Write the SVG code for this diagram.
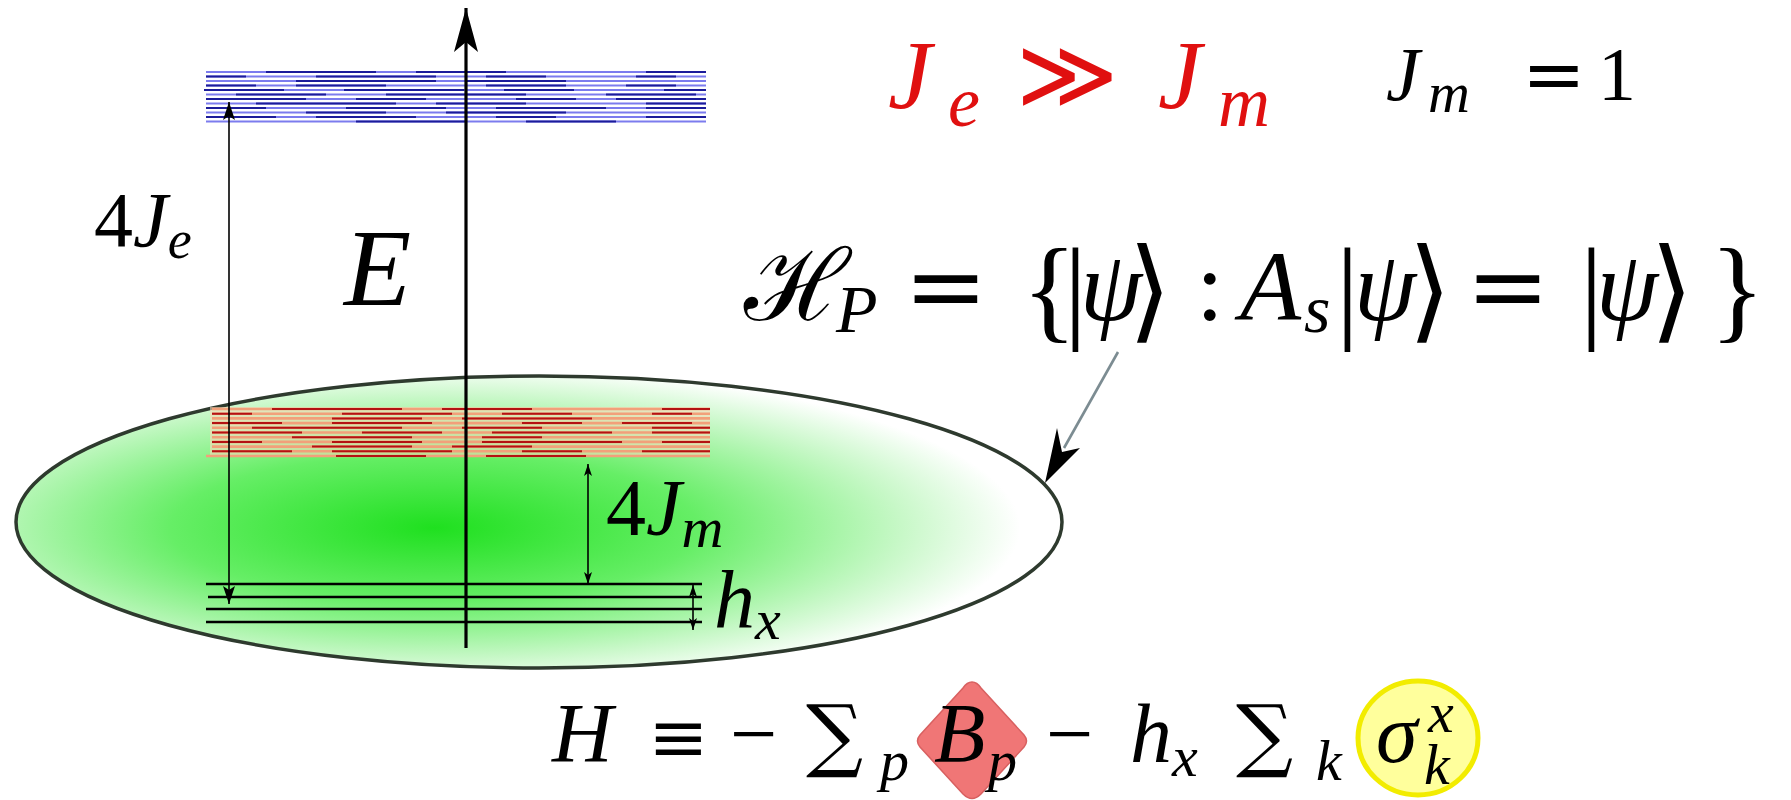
<svg xmlns="http://www.w3.org/2000/svg" width="1791" height="800" viewBox="0 0 1791 800">
<defs>
<radialGradient id="grn" cx="0.4" cy="0.52" r="0.56">
<stop offset="0" stop-color="#1fe01f"/>
<stop offset="0.45" stop-color="#66ee66"/>
<stop offset="0.8" stop-color="#c8f8c8"/>
<stop offset="1" stop-color="#ffffff"/>
</radialGradient>
<marker id="ah" viewBox="0 0 18 12" refX="18" refY="6" markerWidth="18" markerHeight="12" orient="auto-start-reverse" markerUnits="userSpaceOnUse">
<path d="M0,0 L18,6 L0,12 L4,6 z" fill="#000"/>
</marker>
<marker id="ahs" viewBox="0 0 12 8" refX="12" refY="4" markerWidth="12" markerHeight="8" orient="auto-start-reverse" markerUnits="userSpaceOnUse">
<path d="M0,0 L12,4 L0,8 L3,4 z" fill="#000"/>
</marker>
<marker id="ahE" viewBox="0 0 44 24" refX="44" refY="12" markerWidth="44" markerHeight="24" orient="auto" markerUnits="userSpaceOnUse">
<path d="M0,0 L44,12 L0,24 L10,12 z" fill="#000"/>
</marker>
</defs>
<rect width="1791" height="800" fill="#fff"/>

<g id="region-ellipse">
<ellipse cx="539" cy="522" rx="523" ry="146" fill="url(#grn)" stroke="#2e3a2e" stroke-width="3.5"/>
</g>

<g id="blue-band">
<g stroke="#7c7cee" stroke-width="2.2">
<line x1="206" y1="72" x2="706" y2="72"/>
<line x1="206" y1="76.5" x2="706" y2="76.5"/>
<line x1="206" y1="81" x2="706" y2="81"/>
<line x1="206" y1="85.5" x2="706" y2="85.5"/>
<line x1="204" y1="90" x2="706" y2="90"/>
<line x1="206" y1="94.5" x2="706" y2="94.5"/>
<line x1="206" y1="99" x2="706" y2="99"/>
<line x1="206" y1="103.5" x2="706" y2="103.5"/>
<line x1="206" y1="108" x2="706" y2="108"/>
<line x1="206" y1="112.5" x2="706" y2="112.5"/>
<line x1="206" y1="117" x2="706" y2="117"/>
<line x1="206" y1="121.5" x2="706" y2="121.5"/>
</g>
<g stroke="#1c1c9a" stroke-width="2.2">
<line x1="206" y1="72" x2="706" y2="72" stroke-dasharray="0 60 110 40 90 80"/>
<line x1="206" y1="76.5" x2="706" y2="76.5" stroke-dasharray="40 70 120 50 60 90"/>
<line x1="206" y1="81" x2="706" y2="81" stroke-dasharray="0 90 140 30 100 60"/>
<line x1="206" y1="85.5" x2="706" y2="85.5" stroke-dasharray="50 40 90 100 80 60"/>
<line x1="204" y1="90" x2="706" y2="90" stroke-dasharray="80 60 120 40 70 90"/>
<line x1="206" y1="94.5" x2="706" y2="94.5" stroke-dasharray="0 30 90 60 140 50"/>
<line x1="206" y1="99" x2="706" y2="99" stroke-dasharray="100 50 70 90 60 40"/>
<line x1="206" y1="103.5" x2="706" y2="103.5" stroke-dasharray="0 50 140 40 90 70"/>
<line x1="206" y1="108" x2="706" y2="108" stroke-dasharray="60 80 100 50 110 40"/>
<line x1="206" y1="112.5" x2="706" y2="112.5" stroke-dasharray="0 100 80 60 120 50"/>
<line x1="206" y1="117" x2="706" y2="117" stroke-dasharray="70 40 100 80 60 90"/>
<line x1="206" y1="121.5" x2="706" y2="121.5" stroke-dasharray="0 150 110 60 90 40"/>
</g>
</g>

<g id="red-band">
<rect x="210" y="407" width="500" height="50" fill="#f8d8b8" opacity="0.6"/>
<g stroke="#f2a07a" stroke-width="2.6">
<line x1="212" y1="409" x2="710" y2="409"/>
<line x1="212" y1="413.7" x2="710" y2="413.7"/>
<line x1="212" y1="418.4" x2="710" y2="418.4"/>
<line x1="212" y1="423.1" x2="710" y2="423.1"/>
<line x1="212" y1="427.8" x2="710" y2="427.8"/>
<line x1="212" y1="432.5" x2="710" y2="432.5"/>
<line x1="212" y1="437.2" x2="710" y2="437.2"/>
<line x1="212" y1="441.9" x2="710" y2="441.9"/>
<line x1="212" y1="446.6" x2="710" y2="446.6"/>
<line x1="212" y1="451.3" x2="710" y2="451.3"/>
<line x1="206" y1="456" x2="710" y2="456"/>
</g>
<g stroke="#b41212" stroke-width="2">
<line x1="212" y1="409" x2="710" y2="409" stroke-dasharray="0 60 130 40 90 70"/>
<line x1="212" y1="413.7" x2="710" y2="413.7" stroke-dasharray="40 90 110 50 70 80"/>
<line x1="212" y1="418.4" x2="710" y2="418.4" stroke-dasharray="0 120 90 40 130 60"/>
<line x1="212" y1="423.1" x2="710" y2="423.1" stroke-dasharray="70 50 100 90 60 40"/>
<line x1="212" y1="427.8" x2="710" y2="427.8" stroke-dasharray="0 40 150 60 80 70"/>
<line x1="212" y1="432.5" x2="710" y2="432.5" stroke-dasharray="90 60 80 50 120 40"/>
<line x1="212" y1="437.2" x2="710" y2="437.2" stroke-dasharray="0 80 120 70 60 90"/>
<line x1="212" y1="441.9" x2="710" y2="441.9" stroke-dasharray="50 70 90 60 140 40"/>
<line x1="212" y1="446.6" x2="710" y2="446.6" stroke-dasharray="0 100 100 40 80 80"/>
<line x1="212" y1="451.3" x2="710" y2="451.3" stroke-dasharray="80 40 120 70 60 60"/>
<line x1="206" y1="456" x2="710" y2="456" stroke-dasharray="0 130 90 60 100 50"/>
</g>
</g>

<g id="ground-levels" stroke="#000" stroke-width="2.4">
<line x1="206" y1="584" x2="702" y2="584"/>
<line x1="208" y1="597" x2="702" y2="597"/>
<line x1="206" y1="609" x2="702" y2="609"/>
<line x1="206" y1="622" x2="702" y2="622"/>
</g>

<g id="connectors">
<g stroke="#000" stroke-width="1.6" fill="none">
<line x1="229" y1="102" x2="229" y2="604" marker-start="url(#ah)" marker-end="url(#ah)"/>
<line x1="588" y1="464" x2="588" y2="584" marker-start="url(#ahs)" marker-end="url(#ahs)"/>
<line x1="693" y1="585" x2="693" y2="630" marker-start="url(#ahs)" marker-end="url(#ahs)"/>
</g>
<line x1="466" y1="648" x2="466" y2="8" stroke="#000" stroke-width="3.2" marker-end="url(#ahE)"/>
<line x1="1118" y1="352" x2="1064" y2="448" stroke="#7c8c92" stroke-width="2.6"/>
<path d="M1045,483 L1080,448 L1062,452 L1057,428 z" fill="#000"/>
</g>

<g id="label-4Je">
<text x="94" y="246" font-size="78" font-family="'Liberation Serif', serif">4<tspan font-style="italic">J</tspan><tspan font-style="italic" font-size="54" dy="12">e</tspan></text>
</g>
<g id="label-E">
<text x="344" y="305" font-size="110" font-family="'Liberation Serif', serif" font-style="italic">E</text>
</g>
<g id="label-4Jm">
<text x="606" y="535" font-size="80" font-family="'Liberation Serif', serif">4<tspan font-style="italic">J</tspan><tspan font-style="italic" font-size="58" dy="12">m</tspan></text>
</g>
<g id="label-hx">
<text x="714" y="627" font-size="82" font-family="'Liberation Serif', serif" font-style="italic">h<tspan font-size="58" dy="12">x</tspan></text>
</g>
<g id="label-condition">
<text y="108" font-size="98" fill="#e01010" font-family="'Liberation Serif', serif"><tspan font-style="italic" x="888" y="108">J</tspan><tspan font-style="italic" font-size="72" x="948" y="126">e</tspan><tspan font-family="'DejaVu Serif', serif" x="1016" y="108">≫</tspan><tspan font-style="italic" x="1158" y="108">J</tspan><tspan font-style="italic" font-size="72" x="1218" y="126">m</tspan></text>
</g>
<g id="label-Jm1">
<text y="100" font-size="76" font-family="'Liberation Serif', serif"><tspan font-style="italic" x="1386" y="100">J</tspan><tspan font-style="italic" font-size="58" x="1428" y="112">m</tspan><tspan font-family="'DejaVu Serif', serif" x="1522" y="100">=</tspan><tspan x="1598" y="100">1</tspan></text>
</g>
<g id="label-HP">
<text y="320" font-size="100" font-family="'Liberation Serif', serif"><tspan font-family="'Noto Serif', serif" font-style="italic" x="744" y="320">ℋ</tspan><tspan font-style="italic" font-size="68" x="836" y="332">P</tspan><tspan font-family="'DejaVu Serif', serif" x="904" y="320">=</tspan><tspan font-size="114" x="1022" y="328">{</tspan><tspan font-size="114" x="1064" y="328">|</tspan><tspan font-style="italic" x="1080" y="320">ψ</tspan><tspan font-family="'DejaVu Serif', serif" font-size="112" x="1128" y="328">⟩</tspan><tspan x="1196" y="320">:</tspan><tspan font-style="italic" x="1240" y="320">A</tspan><tspan font-style="italic" font-size="68" x="1304" y="332">s</tspan><tspan font-size="114" x="1336" y="328">|</tspan><tspan font-style="italic" x="1354" y="320">ψ</tspan><tspan font-family="'DejaVu Serif', serif" font-size="112" x="1408" y="328">⟩</tspan><tspan font-family="'DejaVu Serif', serif" x="1466" y="320">=</tspan><tspan font-size="114" x="1580" y="328">|</tspan><tspan font-style="italic" x="1596" y="320">ψ</tspan><tspan font-family="'DejaVu Serif', serif" font-size="112" x="1650" y="328">⟩</tspan><tspan font-size="114" x="1710" y="328">}</tspan></text>
</g>
<g id="label-hamiltonian">
<path d="M972,682 Q977,682 981,688 L1024,735 Q1029,741 1024,747 L981,794 Q972,803 963,794 L920,747 Q915,741 920,735 L963,688 Q967,682 972,682 z" fill="#f07676" stroke="#d86060" stroke-width="1.5"/>
<ellipse cx="1418" cy="738" rx="60" ry="57" fill="#ffff9c" stroke="#f2ec00" stroke-width="5"/>
<text y="762" font-size="84" font-family="'Liberation Serif', serif"><tspan font-style="italic" x="552" y="762">H</tspan><tspan font-family="'DejaVu Serif', serif" x="648" y="762" font-size="72">≡</tspan><tspan x="730" y="762">−</tspan><tspan font-family="'DejaVu Serif', serif" x="806" y="762" font-size="80">∑</tspan><tspan font-style="italic" x="880" y="780" font-size="58">p</tspan><tspan font-style="italic" x="934" y="762">B</tspan><tspan font-style="italic" x="988" y="780" font-size="58">p</tspan><tspan x="1046" y="762">−</tspan><tspan font-style="italic" x="1130" y="762">h</tspan><tspan font-style="italic" x="1172" y="776" font-size="58">x</tspan><tspan font-family="'DejaVu Serif', serif" x="1236" y="762" font-size="80">∑</tspan><tspan font-style="italic" x="1316" y="780" font-size="58">k</tspan><tspan font-style="italic" x="1376" y="762">σ</tspan><tspan font-style="italic" x="1428" y="732" font-size="58">x</tspan><tspan font-style="italic" x="1424" y="784" font-size="58">k</tspan></text>
</g>
</svg>
